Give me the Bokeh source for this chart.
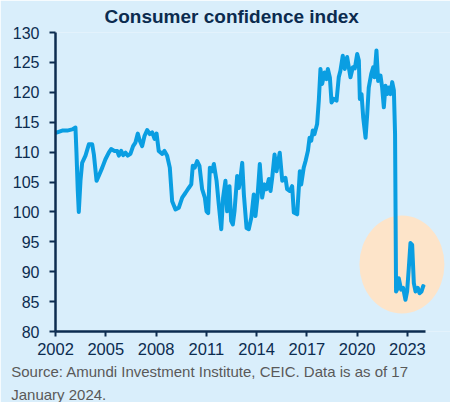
from bokeh.plotting import figure
from bokeh.models import Range1d, FixedTicker, Title
from bokeh.embed import file_html
from bokeh.resources import INLINE

# ---- data ----
dates = [2002.0, 2002.1, 2002.4, 2002.7, 2003.0, 2003.19, 2003.25, 2003.33, 2003.39, 2003.49,
         2003.59, 2003.79, 2003.99, 2004.19, 2004.29, 2004.45, 2004.58, 2004.79, 2004.98, 2005.18,
         2005.32, 2005.52, 2005.68, 2005.78, 2005.92, 2006.04, 2006.18, 2006.31, 2006.47, 2006.63,
         2006.77, 2006.91, 2007.03, 2007.17, 2007.31, 2007.47, 2007.63, 2007.77, 2007.91, 2008.03,
         2008.16, 2008.37, 2008.5, 2008.66, 2008.82, 2008.96, 2009.16, 2009.36, 2009.56, 2009.76,
         2009.95, 2010.1, 2010.19, 2010.31, 2010.45, 2010.59, 2010.75, 2010.91, 2011.01, 2011.11,
         2011.21, 2011.35, 2011.45, 2011.61, 2011.74, 2011.89, 2012.0, 2012.14, 2012.24, 2012.38,
         2012.48, 2012.58, 2012.68, 2012.84, 2012.94, 2013.04, 2013.14, 2013.24, 2013.4, 2013.53,
         2013.68, 2013.83, 2013.93, 2014.05, 2014.19, 2014.33, 2014.47, 2014.59, 2014.73, 2014.83,
         2014.93, 2015.07, 2015.19, 2015.38, 2015.53, 2015.72, 2015.82, 2015.98, 2016.12, 2016.22,
         2016.42, 2016.58, 2016.66, 2016.81, 2016.92, 2017.06, 2017.16, 2017.26, 2017.35, 2017.45,
         2017.61, 2017.71, 2017.81, 2017.91, 2018.05, 2018.17, 2018.25, 2018.37, 2018.47, 2018.61,
         2018.77, 2018.9, 2019.0, 2019.14, 2019.26, 2019.4, 2019.5, 2019.6, 2019.74, 2019.86,
         2020.0, 2020.1, 2020.16, 2020.26, 2020.36, 2020.5, 2020.6, 2020.69, 2020.84, 2020.96,
         2021.03, 2021.15, 2021.25, 2021.39, 2021.49, 2021.59, 2021.69, 2021.79, 2021.89, 2021.99,
         2022.09, 2022.19, 2022.26, 2022.32, 2022.38, 2022.48, 2022.62, 2022.74, 2022.88, 2022.98,
         2023.08, 2023.18, 2023.28, 2023.38, 2023.48, 2023.62, 2023.72, 2023.84, 2023.94, 2024.0]
confidence = [113.2, 113.3, 113.6, 113.6, 113.8, 114.1, 110.0, 103.5, 100.0, 105.2,
              108.2, 109.4, 111.3, 111.3, 109.6, 105.2, 106.0, 107.4, 108.8, 109.9,
              110.5, 110.2, 110.2, 109.4, 110.2, 109.5, 109.9, 109.4, 109.7, 111.0,
              111.6, 113.1, 111.9, 111.0, 112.7, 113.7, 113.0, 113.3, 112.2, 113.1,
              110.2, 109.7, 110.2, 109.4, 107.4, 101.8, 100.4, 100.7, 102.4, 103.2,
              104.0, 104.6, 107.7, 107.4, 108.5, 107.7, 103.8, 102.4, 100.1, 99.8,
              107.4, 106.8, 108.0, 105.2, 101.3, 97.1, 102.4, 105.2, 100.1, 104.3,
              98.5, 97.9, 100.1, 106.0, 104.0, 105.7, 108.2, 102.9, 97.3, 97.1,
              99.0, 102.9, 99.3, 102.4, 108.0, 102.4, 104.6, 103.8, 105.5, 103.5,
              105.7, 109.6, 106.8, 109.9, 105.2, 105.7, 103.8, 103.5, 104.3, 99.9,
              99.6, 106.8, 104.6, 107.4, 108.5, 110.2, 112.4, 111.9, 113.6, 113.0,
              114.7, 118.6, 123.9, 121.4, 123.3, 122.2, 123.9, 122.5, 118.3, 118.9,
              118.6, 122.5, 123.6, 126.1, 123.9, 125.9, 124.2, 122.5, 124.2, 124.0,
              126.4, 125.3, 118.9, 119.7, 115.8, 112.4, 116.4, 120.8, 123.1, 124.2,
              122.5, 127.0, 121.9, 122.8, 120.8, 117.5, 121.1, 119.7, 120.8, 119.7,
              121.7, 120.3, 113.0, 86.7, 87.0, 88.9, 87.0, 87.3, 85.3, 86.7,
              90.6, 94.8, 94.5, 88.1, 86.7, 87.3, 86.4, 86.7, 87.6, 87.4]
x_ticks = [2002, 2005, 2008, 2011, 2014, 2017, 2020, 2023]
y_ticks = [80, 85, 90, 95, 100, 105, 110, 115, 120, 125, 130]
title_text = "Consumer confidence index"
source_lines = ["Source: Amundi Investment Institute, CEIC. Data is as of 17", "January 2024."]

# ---- layout constants (pixels) ----
W, H = 450, 402
LEFT, TOP, BOTTOM = 55, 32, 331
PX_PER_YEAR = 16.76
X0, X1 = 2002.0, 2002.0 + (W - LEFT) / PX_PER_YEAR
Y0, Y1 = 80.0, 130.0
PX_PER_UNIT = (BOTTOM - TOP) / (Y1 - Y0)

BG = "#d9eefb"
NAVY = "#0c2c50"
LINE = "#0a9ee2"

p = figure(width=W, height=H, output_backend="svg", toolbar_location=None,
           x_range=Range1d(X0, X1), y_range=Range1d(Y0, Y1),
           min_border_left=LEFT, min_border_right=0, min_border_top=TOP,
           min_border_bottom=H - BOTTOM)
p.background_fill_color = BG
p.border_fill_color = BG
p.outline_line_color = None
p.grid.visible = False

# title
p.title.text = title_text
p.title.align = "left"
p.title.offset = 49
p.title.standoff = 8
p.title.vertical_align = "top"
p.title.text_font = "Liberation Sans"
p.title.text_font_style = "bold"
p.title.text_font_size = "19px"
p.title.text_color = "#0b2b4f"

# highlight ellipse
p.ellipse(x=[2022.67], y=[91.2], width=85 / PX_PER_YEAR, height=98 / PX_PER_UNIT,
          fill_color="#fde4c9", line_color=None)

p.line(dates, confidence, line_color=LINE, line_width=4, line_join="round")

for ax, ticks in ((p.xaxis, x_ticks), (p.yaxis, y_ticks)):
    ax.ticker = FixedTicker(ticks=ticks)
    ax.axis_line_color = NAVY
    ax.axis_line_width = 2.5
    ax.major_tick_line_color = NAVY
    ax.major_tick_line_width = 2
    ax.major_tick_in = 0
    ax.minor_tick_line_color = None
    ax.major_label_text_color = NAVY
    ax.major_label_text_font = "Liberation Sans"

p.xaxis.bounds = (2002, 2024.05)
p.xaxis.major_tick_out = 5
p.xaxis.major_label_standoff = 6
p.xaxis.major_label_text_font_size = "16.5px"
p.yaxis.bounds = (80, 130)
p.yaxis.major_tick_out = 6
p.yaxis.major_label_standoff = 10
p.yaxis.major_label_text_font_size = "16px"

# source lines, stacked below the x axis
for i, line in enumerate(source_lines):
    p.add_layout(Title(text=line, align="left", offset=-(LEFT - 10.7),
                       standoff=7 if i == 0 else 0,
                       text_font="Liberation Sans", text_font_size="15px",
                       text_font_style="normal", text_color="#595959",
                       text_line_height=1.0), "below")

open("out.html", "w").write(file_html(p, INLINE))
